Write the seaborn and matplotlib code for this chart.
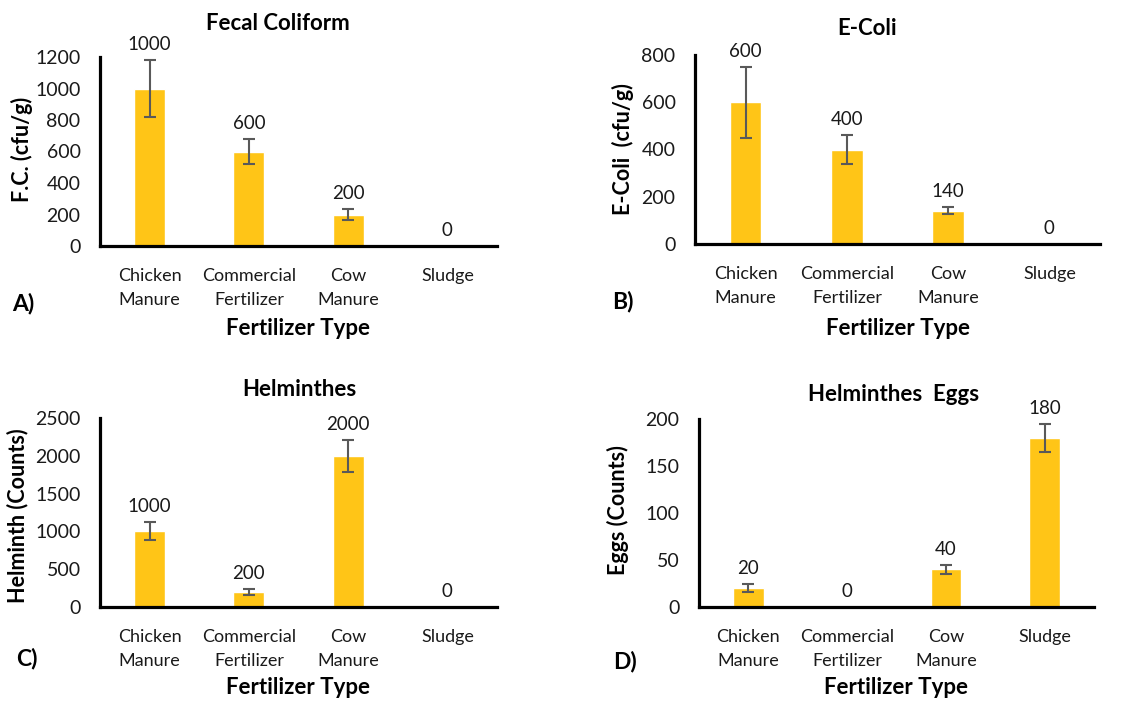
import matplotlib
matplotlib.use("Agg")
import matplotlib.pyplot as plt
import seaborn as sns
import pandas as pd
import numpy as np

# ---------------- data ----------------
categories = ["Chicken\nManure", "Commercial\nFertilizer", "Cow\nManure", "Sludge"]

fc_values = [1000, 600, 200, 0]
fc_errors = [180, 80, 35, 0]

ecoli_values = [600, 400, 140, 0]
ecoli_errors = [150, 60, 15, 0]

helminth_values = [1000, 200, 2000, 0]
helminth_errors = [120, 35, 210, 0]

eggs_values = [20, 0, 40, 180]
eggs_errors = [4, 0, 5, 15]

titles = ["Fecal Coliform", "E-Coli", "Helminthes", "Helminthes  Eggs"]
ylabels = ["F.C. (cfu/g)", "E-Coli  (cfu/g)", "Helminth (Counts)", "Eggs (Counts)"]
xlabel = "Fertilizer Type"
panel_letters = ["A)", "B)", "C)", "D)"]
y_max = [1200, 800, 2500, 200]
y_step = [200, 200, 500, 50]

# ---------------- style ----------------
sns.set_theme(style="white")
plt.rcParams['font.family'] = ['Lato', 'DejaVu Sans']

W, H = 1142, 702
fig = plt.figure(figsize=(W / 100, H / 100), dpi=100)

def fx(px):
    return px / W

def fy(py):
    return 1 - py / H

# axes boxes in pixels: left, top, right, bottom
boxes = [
    (100, 57, 497, 246),
    (695, 55, 1100, 244),
    (100, 418, 497, 607),
    (699, 419, 1094, 607),
]
title_pos = [(278, 30), (867, 35), (299, 396), (894, 401)]
letter_pos = [(12, 310), (612, 308), (16, 665), (613, 668)]
ylabel_pos = [(22, 149), (623, 149), (18, 516), (618, 510)]
xlabel_y = [328, 328, 688, 688]

bar_color = "#FFC517"
err_color = "#595959"

series = [
    (fc_values, fc_errors),
    (ecoli_values, ecoli_errors),
    (helminth_values, helminth_errors),
    (eggs_values, eggs_errors),
]

for i, (vals, errs) in enumerate(series):
    l, t, r, b = boxes[i]
    ax = fig.add_axes([fx(l), fy(b), (r - l) / W, (b - t) / H])
    df = pd.DataFrame({"cat": categories, "val": vals})
    sns.barplot(data=df, x="cat", y="val", color=bar_color, saturation=1,
                width=0.31, errorbar=None, ax=ax, zorder=2)
    xs = np.arange(len(categories))
    e = np.array(errs)
    v = np.array(vals)
    m = e > 0
    ax.errorbar(xs[m], v[m], yerr=e[m], fmt="none", ecolor=err_color,
                elinewidth=1.5, capsize=4, capthick=1.5, zorder=3)
    for xi, (vv, ee) in enumerate(zip(vals, errs)):
        ax.annotate(f"{vv}", (xi, vv + ee), xytext=(0, 5), textcoords="offset points",
                    ha="center", va="bottom", fontsize=13.5, color="#1a1a1a")
    ax.set_xlim(-0.5, len(categories) - 0.5)
    ax.set_ylim(0, y_max[i])
    ax.set_yticks(np.arange(0, y_max[i] + 1, y_step[i]))
    ax.tick_params(axis="both", length=0, colors="#1a1a1a")
    ax.tick_params(axis="y", pad=14, labelsize=14)
    ax.tick_params(axis="x", pad=16, labelsize=13)
    for lab in ax.get_xticklabels():
        lab.set_linespacing(1.6)
        lab.set_va("top")
    for s in ["top", "right"]:
        ax.spines[s].set_visible(False)
    for s in ["left", "bottom"]:
        ax.spines[s].set_color("black")
        ax.spines[s].set_linewidth(2.3)
        ax.spines[s].set_zorder(4)
    ax.set_xlabel("")
    ax.set_ylabel("")
    ax.grid(False)

    fig.text(fx(title_pos[i][0]), fy(title_pos[i][1]), titles[i], ha="center",
             va="baseline", fontsize=16, fontweight="bold", color="black")
    fig.text(fx(letter_pos[i][0]), fy(letter_pos[i][1]), panel_letters[i], ha="left",
             va="baseline", fontsize=16.5, fontweight="bold", color="black")
    fig.text(fx(ylabel_pos[i][0]), fy(ylabel_pos[i][1]), ylabels[i], ha="center",
             va="center", rotation=90, fontsize=15.5, fontweight="bold", color="black")
    fig.text(fx((l + r) / 2), fy(xlabel_y[i]), xlabel, ha="center", va="center",
             fontsize=16, fontweight="bold", color="black")

fig.savefig("out.png", dpi=100, facecolor="white")
